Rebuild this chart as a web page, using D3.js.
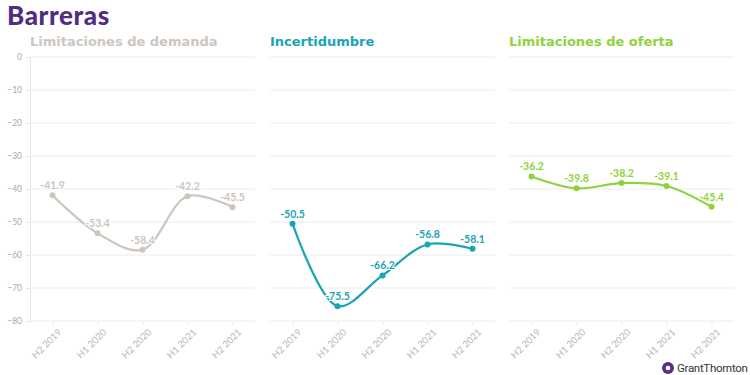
<!DOCTYPE html>
<html>
<head>
<meta charset="utf-8">
<title>Barreras</title>
<script src="https://d3js.org/d3.v7.min.js"></script>
<style>
  body { margin: 0; background: #fff; }
  svg { font-family: "DejaVu Sans", "Lato", sans-serif; }
</style>
</head>
<body>
<div id="chart"></div>
<script>
// periods and series values
const periods = ["H2 2019", "H1 2020", "H2 2020", "H1 2021", "H2 2021"];
const demanda = [-41.9, -53.4, -58.4, -42.2, -45.5];
const incertidumbre = [-50.5, -75.5, -66.2, -56.8, -58.1];
const oferta = [-36.2, -39.8, -38.2, -39.1, -45.4];
const yTicks = [0, -10, -20, -30, -40, -50, -60, -70, -80];

const panels = [
  { title: "Limitaciones de demanda", values: demanda, color: "#cdc6be", x0: 30 },
  { title: "Incertidumbre", values: incertidumbre, color: "#1ba4b4", x0: 270 },
  { title: "Limitaciones de oferta", values: oferta, color: "#8fd33c", x0: 509 }
];

const W = 750, H = 375;
const svg = d3.select("#chart").append("svg").attr("width", W).attr("height", H);

svg.append("text").attr("x", 7).attr("y", 25)
  .attr("font-size", 26).attr("font-weight", 900).attr("fill", "#4f2d7f")
  .attr("font-family", "Lato, sans-serif").attr("letter-spacing", 0.6)
  .text("Barreras");

const y = d3.scaleLinear().domain([-80, 0]).range([321, 57]);
const panelW = 225;

// y axis labels (only left panel)
const yAxis = svg.append("g").attr("transform", "translate(30,0)")
  .call(d3.axisLeft(y).tickValues(yTicks).tickSize(4).tickPadding(4).tickFormat(d3.format("d")));
yAxis.select(".domain").attr("stroke", "#e6e6e6");
yAxis.selectAll(".tick line").attr("stroke", "#e6e6e6");
yAxis.selectAll("text").attr("fill", "#aaa").attr("font-size", 8.5)
  .attr("font-family", "Lato, sans-serif");

panels.forEach((p, i) => {
  const x = d3.scalePoint().domain(periods).range([p.x0, p.x0 + panelW]).padding(0.5);
  const g = svg.append("g");

  g.append("text").attr("x", p.x0).attr("y", 46)
    .attr("font-size", 13).attr("font-weight", 700).attr("fill", p.color)
    .text(p.title);

  g.selectAll("line.grid").data(yTicks).join("line")
    .attr("x1", p.x0).attr("x2", p.x0 + panelW)
    .attr("y1", d => y(d)).attr("y2", d => y(d))
    .attr("stroke", "#ececec").attr("stroke-width", 1);

  const xAxis = g.append("g").attr("transform", `translate(0,${y(-80)})`)
    .call(d3.axisBottom(x).tickSize(4).tickPadding(6));
  xAxis.select(".domain").remove();
  xAxis.selectAll(".tick line").attr("stroke", "#e6e6e6");
  xAxis.selectAll("text")
    .attr("fill", "#b8b8b8").attr("font-size", 9.5)
    .attr("font-family", "Lato, sans-serif")
    .attr("text-anchor", "end")
    .attr("transform", "rotate(-45)")
    .attr("dx", "-0.2em").attr("dy", "0.5em");

  const pts = periods.map((d, j) => ({ p: d, v: p.values[j] }));
  const line = d3.line().x(d => x(d.p)).y(d => y(d.v)).curve(d3.curveCatmullRom.alpha(0.5));
  g.append("path").datum(pts).attr("d", line)
    .attr("fill", "none").attr("stroke", p.color).attr("stroke-width", 2.2);

  g.selectAll("circle").data(pts).join("circle")
    .attr("cx", d => x(d.p)).attr("cy", d => y(d.v)).attr("r", 3)
    .attr("fill", p.color);

  g.selectAll("text.lbl").data(pts).join("text").attr("class", "lbl")
    .attr("x", d => x(d.p)).attr("y", d => y(d.v) - 6)
    .attr("text-anchor", "middle").attr("font-size", 10.5).attr("font-weight", 700)
    .attr("font-family", "Lato, sans-serif")
    .attr("fill", p.color)
    .attr("stroke", "#fff").attr("stroke-width", 2).attr("paint-order", "stroke")
    .text(d => d.v.toFixed(1));
});

// logo
const logo = svg.append("g").attr("transform", "translate(668,368)");
logo.append("circle").attr("r", 6).attr("fill", "#5b2d8e");
logo.append("circle").attr("r", 2.3).attr("fill", "#fff");
logo.append("text").attr("x", 9).attr("y", 4).attr("font-size", 11.5)
  .attr("fill", "#333").attr("font-family", "Roboto, sans-serif").attr("letter-spacing", -0.3)
  .text("GrantThornton");
</script>
</body>
</html>
